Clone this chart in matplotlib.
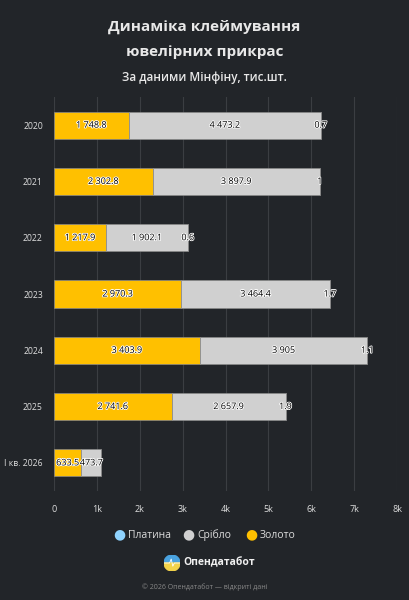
import matplotlib
matplotlib.use("Agg")
import matplotlib.pyplot as plt
import matplotlib.patheffects as pe
from matplotlib.patches import Wedge
import numpy as np

plt.rcParams['font.family'] = ['Open Sans', 'DejaVu Sans']

categories = ["2020", "2021", "2022", "2023", "2024", "2025", "I кв. 2026"]
gold = [1748.8, 2302.8, 1217.9, 2970.3, 3403.9, 2741.6, 633.5]
silver = [4473.2, 3897.9, 1902.1, 3464.4, 3905, 2657.9, 473.7]
platinum = [0.7, 1, 0.6, 1.7, 1.1, 1.9, 0]
series_names = ["Платина", "Срібло", "Золото"]
xticks = [0, 1000, 2000, 3000, 4000, 5000, 6000, 7000, 8000]
xticklabels = ["0", "1k", "2k", "3k", "4k", "5k", "6k", "7k", "8k"]

BG = "#222529"
C_GOLD = "#FFC000"
C_SILVER = "#D0D0D0"
C_PLAT = "#8FD3FE"

fig = plt.figure(figsize=(4.09, 6.0), dpi=100, facecolor=BG)
ax = fig.add_axes([54/409, 1-491/600, (397-54)/409, (491-97)/600], facecolor=BG)

y = np.arange(len(categories))
h = 0.48
ax.barh(y, gold, height=h, color=C_GOLD, edgecolor="#8a8a8a", linewidth=0.5, zorder=3)
ax.barh(y, silver, left=gold, height=h, color=C_SILVER, edgecolor="#8a8a8a", linewidth=0.5, zorder=3)
left2 = [g + s for g, s in zip(gold, silver)]
ax.barh(y, platinum, left=left2, height=h, color=C_PLAT, edgecolor="#8a8a8a", linewidth=0.5, zorder=3)

def fmt(v):
    s = f"{v:,.1f}".replace(",", " ")
    if s.endswith(".0"):
        s = s[:-2]
    return s

halo = [pe.withStroke(linewidth=1.2, foreground="white")]
for i in range(len(categories)):
    ax.text(gold[i] / 2, y[i], fmt(gold[i]), ha="center", va="center", fontsize=6.5,
            color="black", path_effects=halo, zorder=5)
    ax.text(gold[i] + silver[i] / 2, y[i], fmt(silver[i]), ha="center", va="center", fontsize=6.5,
            color="black", path_effects=halo, zorder=5)
    if platinum[i] > 0:
        ax.text(left2[i], y[i], fmt(platinum[i]), ha="center", va="center", fontsize=6.5,
                color="black", path_effects=halo, zorder=5)

ax.set_ylim(len(categories) - 0.5, -0.5)
ax.set_xlim(0, 8000)
ax.set_yticks(y)
ax.set_yticklabels(categories, color="#dddddd", fontsize=6.2)
ax.set_xticks(xticks)
ax.set_xticklabels(xticklabels, color="#dddddd", fontsize=6.5)
ax.tick_params(axis="both", length=0)
ax.tick_params(axis="x", pad=10)
ax.tick_params(axis="y", pad=8)
ax.grid(axis="x", color="#3b3e42", linewidth=0.8, zorder=0)
for s in ax.spines.values():
    s.set_visible(False)

# Titles
fig.text(0.5, 1-27/600, "Динаміка клеймування", ha="center", va="center",
         fontsize=11, fontweight="bold", color="#e8e8e8")
fig.text(0.5, 1-52/600, "ювелірних прикрас", ha="center", va="center",
         fontsize=11, fontweight="bold", color="#e8e8e8")
fig.text(0.5, 1-77/600, "За даними Мінфіну, тис.шт.", ha="center", va="center",
         fontsize=8.5, fontweight="semibold", color="#e8e8e8")

# Legend
leg_items = [(119, C_PLAT, series_names[0]), (188, C_SILVER, series_names[1]), (251, C_GOLD, series_names[2])]
for xpx, c, name in leg_items:
    fig.text(xpx/409, 1-535/600, "●", ha="center", va="center", fontsize=10, color=c)
    fig.text((xpx+9)/409, 1-535/600, name, ha="left", va="center", fontsize=7.5, color="#dddddd")

# Logo
lx, ly = 172/409, 1-563/600
lax = fig.add_axes([lx - 8/409, ly - 8/600, 16/409, 16/600])
lax.set_xlim(-1, 1); lax.set_ylim(-1, 1); lax.set_aspect("equal"); lax.axis("off")
lax.add_patch(Wedge((0, 0), 1, 0, 180, color="#4aa3e0"))
lax.add_patch(Wedge((0, 0), 1, 180, 360, color="#f3d34a"))
lax.plot([-1, -0.3, -0.1, 0.1, 0.3, 1], [0, 0, 0.5, -0.4, 0, 0], color="white", lw=0.6)
fig.text(183/409, ly, "Опендатабот", ha="left", va="center", fontsize=7.5,
         fontweight="bold", color="#f0f0f0")

fig.text(0.5, 1-587/600, "© 2026 Опендатабот — відкриті дані", ha="center", va="center",
         fontsize=5, color="#888888")

fig.savefig("out.png", dpi=100, facecolor=BG)
